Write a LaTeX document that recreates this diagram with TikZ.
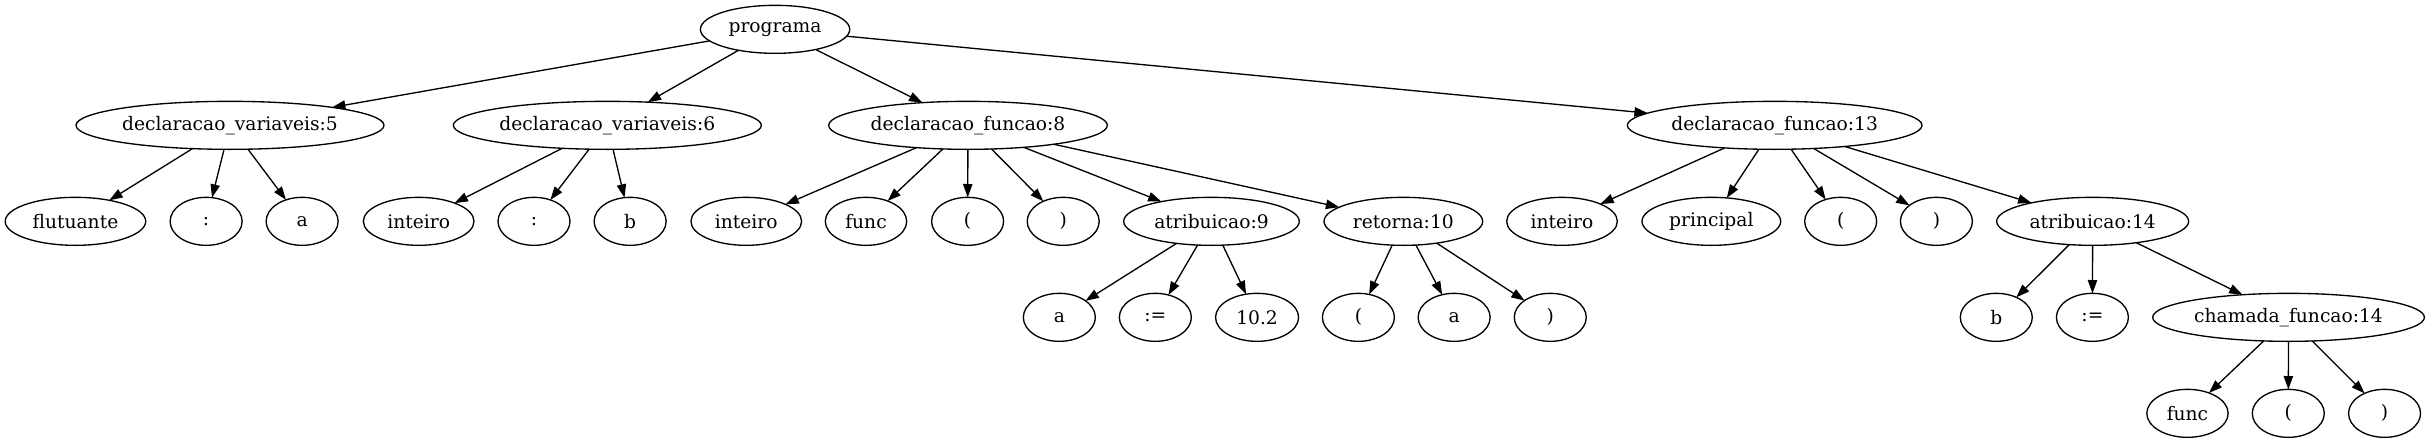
\documentclass[tikz,border=0pt]{standalone}
\usepackage{fontspec}
\setmainfont{DejaVu Serif}
\usepackage{tkz-graph}
\usetikzlibrary{shapes.geometric,arrows.meta}
\newcommand{\NodeWidth}{54pt}

\begin{document}
\begin{tikzpicture}[x=1pt,y=1pt]
				\useasboundingbox (0,0) rectangle (1822.5,-332.25);
				\GraphInit[vstyle=Normal]
				\SetVertexNormal[
				Shape 		= ellipse,
				LineWidth 	= 1pt]
				\SetUpEdge[
				lw 		= 1pt,
				color 	= black]
				\tikzset{VertexStyle/.append style={minimum width=\NodeWidth, minimum height=36pt,
						inner sep=0pt, fill=white, font=\fontsize{14pt}{17pt}\selectfont},
					EdgeStyle/.append style={-{Triangle[length=10pt,width=7pt]}}}
				
				{\renewcommand{\NodeWidth}{112pt} \Vertex[x=581.3, y=-22, L=programa]{prog}}
				
				{\renewcommand{\NodeWidth}{231pt} \Vertex[x=172.5, y=-94, L={declaracao\_variaveis:5}]{dv5}}
				{\renewcommand{\NodeWidth}{231pt} \Vertex[x=455.5, y=-94, L={declaracao\_variaveis:6}]{dv6}}
				{\renewcommand{\NodeWidth}{209pt} \Vertex[x=726, y=-94, L={declaracao\_funcao:8}]{df8}}
				{\renewcommand{\NodeWidth}{221pt} \Vertex[x=1331, y=-94, L={declaracao\_funcao:13}]{df13}}
				
				{\renewcommand{\NodeWidth}{105.4pt} \Vertex[x=56.6, y=-166, L=flutuante]{flut}}
				\Vertex[x=154.6, y=-166, L={:}]{colA}
				\Vertex[x=226.6, y=-166, L=a]{aA}
				{\renewcommand{\NodeWidth}{83pt} \Vertex[x=314, y=-166, L=inteiro]{intA}}
				\Vertex[x=400.5, y=-166, L={:}]{colB}
				\Vertex[x=472.6, y=-166, L=b]{bB}
				{\renewcommand{\NodeWidth}{83pt} \Vertex[x=559.7, y=-166, L=inteiro]{intC}}
				{\renewcommand{\NodeWidth}{61pt} \Vertex[x=649.5, y=-166, L=func]{funcC}}
				\Vertex[x=725.7, y=-166, L={(}]{lpC}
				\Vertex[x=797.4, y=-166, L={)}]{rpC}
				{\renewcommand{\NodeWidth}{131.7pt} \Vertex[x=908.6, y=-166, L={atribuicao:9}]{at9}}
				{\renewcommand{\NodeWidth}{119pt} \Vertex[x=1052.5, y=-166, L={retorna:10}]{ret10}}
				{\renewcommand{\NodeWidth}{83pt} \Vertex[x=1171.5, y=-166, L=inteiro]{intD}}
				{\renewcommand{\NodeWidth}{104pt} \Vertex[x=1283.5, y=-166, L=principal]{princ}}
				\Vertex[x=1380.5, y=-166, L={(}]{lpD}
				\Vertex[x=1452.3, y=-166, L={)}]{rpD}
				{\renewcommand{\NodeWidth}{144pt} \Vertex[x=1569.5, y=-166, L={atribuicao:14}]{at14}}
				
				\Vertex[x=794.5, y=-238, L=a]{a9}
				\Vertex[x=866.5, y=-238, L={:=}]{asg9}
				{\renewcommand{\NodeWidth}{62.3pt} \Vertex[x=942.8, y=-238, L={10.2}]{num9}}
				\Vertex[x=1018.8, y=-238, L={(}]{lp10}
				\Vertex[x=1090.6, y=-238, L=a]{a10}
				\Vertex[x=1162.7, y=-238, L={)}]{rp10}
				\Vertex[x=1497.2, y=-238, L=b]{b14}
				\Vertex[x=1569.3, y=-238, L={:=}]{asg14}
				{\renewcommand{\NodeWidth}{203.8pt} \Vertex[x=1716.4, y=-238, L={chamada\_funcao:14}]{cf14}}
				
				{\renewcommand{\NodeWidth}{61pt} \Vertex[x=1640.6, y=-310, L=func]{func14}}
				\Vertex[x=1716.2, y=-310, L={(}]{lp14}
				\Vertex[x=1788.4, y=-310, L={)}]{rp14}
				
				\Edges(prog,dv5)
				\Edges(prog,dv6)
				\Edges(prog,df8)
				\Edges(prog,df13)
				\Edges(dv5,flut)
				\Edges(dv5,colA)
				\Edges(dv5,aA)
				\Edges(dv6,intA)
				\Edges(dv6,colB)
				\Edges(dv6,bB)
				\Edges(df8,intC)
				\Edges(df8,funcC)
				\Edges(df8,lpC)
				\Edges(df8,rpC)
				\Edges(df8,at9)
				\Edges(df8,ret10)
				\Edges(at9,a9)
				\Edges(at9,asg9)
				\Edges(at9,num9)
				\Edges(ret10,lp10)
				\Edges(ret10,a10)
				\Edges(ret10,rp10)
				\Edges(df13,intD)
				\Edges(df13,princ)
				\Edges(df13,lpD)
				\Edges(df13,rpD)
				\Edges(df13,at14)
				\Edges(at14,b14)
				\Edges(at14,asg14)
				\Edges(at14,cf14)
				\Edges(cf14,func14)
				\Edges(cf14,lp14)
				\Edges(cf14,rp14)
\end{tikzpicture}
\end{document}
